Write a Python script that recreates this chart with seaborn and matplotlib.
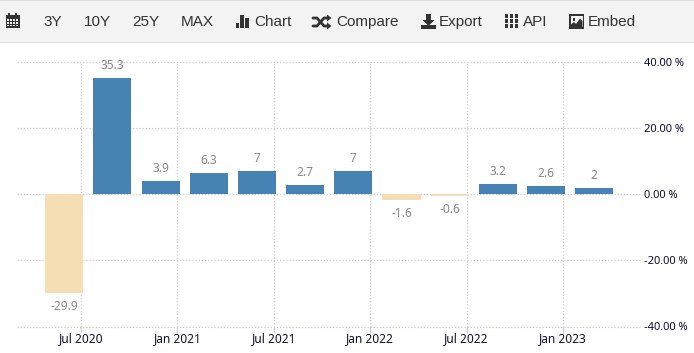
import matplotlib
matplotlib.use("Agg")
import matplotlib.pyplot as plt
from matplotlib.patches import Rectangle, Polygon
from matplotlib.lines import Line2D
import pandas as pd
import seaborn as sns

quarters = ["Q2 2020", "Q3 2020", "Q4 2020", "Q1 2021", "Q2 2021", "Q3 2021",
            "Q4 2021", "Q1 2022", "Q2 2022", "Q3 2022", "Q4 2022", "Q1 2023"]
values = [-29.9, 35.3, 3.9, 6.3, 7, 2.7, 7, -1.6, -0.6, 3.2, 2.6, 2]
value_labels = ["-29.9", "35.3", "3.9", "6.3", "7", "2.7", "7", "-1.6", "-0.6", "3.2", "2.6", "2"]
date_ticks = ["Jul 2020", "Jan 2021", "Jul 2021", "Jan 2022", "Jul 2022", "Jan 2023"]
y_ticks = [-40, -20, 0, 20, 40]
menu_items = ["3Y", "10Y", "25Y", "MAX", "Chart", "Compare", "Export", "API", "Embed"]
menu_x = [43, 84, 132, 181, 254, 336, 439, 523, 588]

W, H = 694, 353
sns.set_theme(style="white")
plt.rcParams["font.family"] = ["Noto Sans", "DejaVu Sans"]

fig = plt.figure(figsize=(W / 100, H / 100), dpi=100, facecolor="white")
ax = fig.add_axes([17 / W, 1 - 326.5 / H, (640 - 17) / W, (326.5 - 62) / H])

df = pd.DataFrame({"quarter": quarters, "value": values,
                   "sign": ["up" if v >= 0 else "down" for v in values]})
sns.barplot(data=df, x="quarter", y="value", hue="sign", dodge=False, width=0.79,
            palette={"up": "#4682B4", "down": "#F5DEB3"}, legend=False,
            saturation=1, linewidth=0, ax=ax, zorder=3)

ax.set_xlim(-0.98, 11.95)
ax.set_ylim(-40, 40)
ax.set_xlabel("")
ax.set_ylabel("")
for s in ax.spines.values():
    s.set_visible(False)

tick_pos = [i * 2 + 0.35 for i in range(len(date_ticks))]
ax.set_xticks(tick_pos, date_ticks)
ax.set_yticks(y_ticks, [f"{v:.2f} %" for v in y_ticks])
ax.yaxis.tick_right()
ax.grid(True, color="#cccccc", linestyle=(0, (1, 1.5)), linewidth=0.9)
ax.set_axisbelow(True)
ax.tick_params(axis="x", length=4, color="#cccccc", pad=0, labelsize=8.6, labelcolor="#101030",
               bottom=True, width=0.9)
ax.tick_params(axis="y", length=0, pad=3, labelsize=8.0, labelcolor="#101030")
for lbl in ax.get_xticklabels() + ax.get_yticklabels():
    lbl.set_clip_on(False)
for g in ax.get_xgridlines() + ax.get_ygridlines():
    g.set_clip_on(False)

for i, (v, t) in enumerate(zip(values, value_labels)):
    offset = 6 if v >= 0 else -7
    ax.annotate(t, (i, v), xytext=(0, offset), textcoords="offset pixels",
                ha="center", va="bottom" if v >= 0 else "top",
                fontsize=8.6, color="#888888", zorder=5, clip_on=False)


def X(x):
    return x / W


def Y(y):
    return 1 - y / H


def rect(x0, y0, x1, y1, color="#333333", z=5):
    fig.add_artist(Rectangle((X(x0), Y(y1)), (x1 - x0) / W, (y1 - y0) / H,
                             transform=fig.transFigure, facecolor=color,
                             edgecolor="none", zorder=z))


def poly(points, color="#333333"):
    fig.add_artist(Polygon([(X(a), Y(b)) for a, b in points], closed=True,
                           transform=fig.transFigure, facecolor=color,
                           edgecolor="none", zorder=5))


def seg(points, lw=1.6, color="#333333"):
    fig.add_artist(Line2D([X(a) for a, _ in points], [Y(b) for _, b in points],
                          transform=fig.transFigure, color=color, lw=lw, zorder=5))


rect(0, 0, W, 1, "#dddddd", 1)
rect(0, 1, W, 42, "#f3f3f3", 1)
rect(0, 42, W, 43, "#dddddd", 1)

for t, x in zip(menu_items, menu_x):
    fig.text(X(x), Y(22), t, family="Liberation Sans", fontsize=11, color="#333333",
             ha="left", va="center", zorder=5)

# calendar icon
rect(5.5, 15, 19.5, 28)
rect(8, 13, 10, 16)
rect(15, 13, 17, 16)
for r in range(3):
    for c in range(4):
        rect(7 + c * 3, 19.5 + r * 2.7, 9 + c * 3, 21 + r * 2.7, "#f3f3f3", 6)
# bar chart icon
rect(236, 23, 239, 28)
rect(240.5, 15, 243.5, 28)
rect(245, 18, 249.5, 28)
# shuffle icon
seg([(313, 18), (317, 18), (324, 26), (328, 26)], 2)
seg([(313, 26), (317, 26), (324, 18), (328, 18)], 2)
poly([(327, 14.5), (331.5, 18), (327, 21.5)])
poly([(327, 22.5), (331.5, 26), (327, 29.5)])
# download icon
rect(426, 14, 431, 21)
poly([(422.5, 20), (434.5, 20), (428.5, 26)])
rect(421, 25, 436, 28.5)
# grid icon
for r in range(3):
    for c in range(3):
        rect(504.5 + c * 5, 14.5 + r * 5, 508 + c * 5, 18 + r * 5)
# image icon
rect(569, 14.5, 584, 28.5)
rect(570.5, 16, 582.5, 27, "#f3f3f3")
rect(572.5, 18, 575, 20.5)
poly([(571, 27), (571, 24.5), (574, 22), (576, 24), (580, 18.5), (582.5, 21), (582.5, 27)])

fig.savefig("out.png", dpi=100)
